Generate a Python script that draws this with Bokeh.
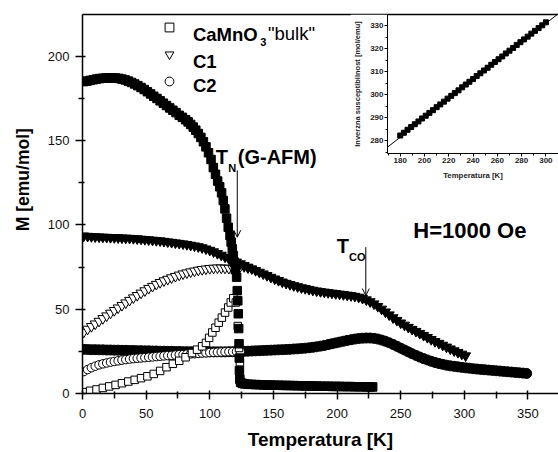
from bokeh.plotting import figure
from bokeh.models import (Range1d, Label, Arrow, OpenHead, Legend, LegendItem,
                          FixedTicker, LinearAxis)
from bokeh.embed import file_html
from bokeh.resources import INLINE

FONT = "Liberation Sans"

# ---------------- data (T [K], M [emu/mol]) ----------------
bulk_fc = [(1, 185.0), (3.5, 185.3), (6, 185.7), (8.5, 186.1), (11, 186.5), (13.5, 186.8),
           (16, 187.0), (18.5, 187.1), (21, 187.2), (23.5, 187.2), (26, 187.1), (28.5, 186.9),
           (31, 186.5), (33.5, 186.0), (36, 185.3), (38.5, 184.5), (41, 183.6), (43.5, 182.6),
           (46, 181.5), (48.5, 180.3), (51, 179.0), (53.5, 177.7), (56, 176.3), (58.5, 175.0),
           (61, 173.6), (63.5, 172.2), (66, 170.8), (68.5, 169.4), (71, 168.0), (73.5, 166.6),
           (76, 165.0), (78.5, 163.8), (81, 162.4), (83, 161.1), (85, 159.6), (87, 158.0),
           (89, 156.2), (91, 154.2), (93, 151.9), (95, 149.3), (97, 146.3), (99, 142.8),
           (101, 138.8), (102.8, 134.0), (104.5, 130.0), (106.2, 126.0), (107.8, 122.6),
           (109.3, 119.0), (110.6, 114.5), (111.9, 109.5), (113.2, 104.0), (114.5, 98.6),
           (115.9, 93.7), (116.8, 89.8), (117.7, 85.8), (118.5, 81.8), (119.2, 77.9),
           (120.1, 73.5), (121.1, 69.0), (121.6, 61.0), (122.0, 55.0), (122.4, 47.3),
           (122.7, 38.5), (123.0, 29.5), (123.2, 21.0), (123.3, 13.6), (123.6, 8.5),
           (124.2, 6.6), (125.5, 6.0), (127.5, 5.7), (130, 5.5), (133, 5.4), (136, 5.3),
           (139, 5.2), (142, 5.1), (145, 5.0), (148, 5.0), (151, 4.9), (154, 4.9), (157, 4.8),
           (160, 4.8), (163, 4.7), (166, 4.7), (169, 4.6), (172, 4.6), (175, 4.5), (178, 4.5),
           (181, 4.4), (184, 4.4), (187, 4.3), (190, 4.3), (193, 4.3), (196, 4.2), (199, 4.2),
           (202, 4.2), (205, 4.1), (208, 4.1), (211, 4.1), (214, 4.0), (217, 4.0), (220, 4.0),
           (223, 3.9), (226, 3.9), (228, 3.9)]

bulk_zfc = [(1, 0.8), (6, 1.6), (11, 2.4), (16, 3.3), (21, 4.2), (26, 5.1), (31, 6.1), (36, 7.1),
            (41, 8.1), (46, 9.1), (51, 10.2), (56, 11.6), (61, 13.4), (66, 15.6), (71, 17.6),
            (76, 19.4), (81, 21.5), (86, 24.0), (90, 26.0), (94, 28.0), (97, 30.0), (99.5, 33.0),
            (102, 36.2), (104.5, 39.0), (107, 42.0), (109.5, 45.0), (112, 48.0), (114.5, 51.0),
            (116.5, 54.0), (118.5, 56.5), (120.5, 54.0), (122, 40.0), (123, 27.0), (123.7, 18.6)]

c1_fc = [(1, 93.5), (4, 93.3), (7, 93.1), (10, 93.0), (13, 92.9), (16, 92.8), (19, 92.7),
         (22, 92.6), (25, 92.5), (28, 92.4), (31, 92.3), (34, 92.2), (37, 92.1), (40, 92.0),
         (43, 91.8), (46, 91.6), (49, 91.4), (52, 91.2), (55, 91.0), (58, 90.8), (61, 90.6),
         (64, 90.3), (67, 90.0), (70, 89.7), (73, 89.4), (76, 89.1), (79, 88.8), (82, 88.4),
         (85, 88.0), (88, 87.6), (91, 87.1), (94, 86.5), (97, 85.8), (100, 85.0), (103, 84.1),
         (106, 83.1), (109, 82.1), (112, 81.0), (115, 80.0), (118, 79.0), (121, 78.0),
         (124, 77.0), (127, 76.0), (130, 75.0), (133, 74.0), (136, 73.0), (139, 72.0),
         (142, 71.0), (145, 70.0), (148, 69.0), (151, 68.0), (154, 67.1), (157, 66.2),
         (160, 65.4), (163, 64.7), (166, 64.0), (169, 63.4), (172, 62.8), (175, 62.3),
         (178, 61.8), (181, 61.3), (184, 60.9), (187, 60.5), (190, 60.2), (193, 59.9),
         (196, 59.6), (199, 59.3), (202, 59.0), (205, 58.7), (208, 58.4), (211, 58.1),
         (214, 57.7), (217, 57.2), (220, 56.5), (223, 55.6), (226, 54.5), (229, 53.2),
         (232, 51.7), (235, 50.1), (238, 48.4), (241, 46.7), (244, 45.0), (247, 43.4),
         (250, 41.9), (253, 40.6), (256, 39.3), (259, 38.1), (262, 36.9), (265, 35.7),
         (268, 34.5), (271, 33.3), (274, 32.1), (277, 30.9), (280, 29.8), (283, 28.7),
         (286, 27.6), (289, 26.5), (292, 25.4), (295, 24.4), (298, 23.4), (301, 22.4)]

c1_zfc = [(1, 36.5), (4, 38.2), (7, 39.8), (10, 41.3), (13, 42.9), (16, 44.5), (19, 46.1),
          (22, 47.7), (25, 49.3), (28, 50.8), (31, 52.3), (34, 53.8), (37, 55.3), (40, 56.8),
          (43, 58.2), (46, 59.6), (49, 61.0), (52, 62.4), (55, 63.6), (58, 64.8), (61, 65.9),
          (64, 66.9), (67, 67.8), (70, 68.7), (73, 69.5), (76, 70.3), (79, 71.0), (82, 71.6),
          (85, 72.2), (88, 72.7), (91, 73.2), (94, 73.6), (97, 73.9), (100, 74.2), (103, 74.4),
          (106, 74.5), (109, 74.5), (112, 74.4), (115, 74.3), (118, 74.3), (121, 74.8),
          (124, 75.4), (127, 75.3), (130, 74.6)]

c2_fc = [(1, 26.2), (4, 26.1), (7, 26.0), (10, 26.0), (13, 25.9), (16, 25.9), (19, 25.8),
         (22, 25.8), (25, 25.7), (28, 25.7), (31, 25.6), (34, 25.6), (37, 25.5), (40, 25.5),
         (43, 25.4), (46, 25.4), (49, 25.3), (52, 25.3), (55, 25.2), (58, 25.2), (61, 25.1),
         (64, 25.1), (67, 25.0), (70, 25.0), (73, 24.9), (76, 24.9), (79, 24.8), (82, 24.8),
         (85, 24.8), (88, 24.7), (91, 24.7), (94, 24.7), (97, 24.7), (100, 24.7), (103, 24.7),
         (106, 24.7), (109, 24.7), (112, 24.7), (115, 24.8), (118, 24.8), (121, 24.9),
         (124, 24.9), (127, 25.0), (130, 25.1), (133, 25.2), (136, 25.3), (139, 25.4),
         (142, 25.5), (145, 25.6), (148, 25.7), (151, 25.8), (154, 25.9), (157, 26.0),
         (160, 26.1), (163, 26.2), (166, 26.4), (169, 26.5), (172, 26.7), (175, 26.9),
         (178, 27.1), (181, 27.4), (184, 27.7), (187, 28.1), (190, 28.5), (193, 29.0),
         (196, 29.5), (199, 30.0), (202, 30.5), (205, 31.0), (208, 31.5), (211, 31.9),
         (214, 32.3), (217, 32.6), (220, 32.8), (223, 32.9), (226, 32.9), (229, 32.7),
         (232, 32.3), (235, 31.7), (238, 31.0), (241, 30.1), (244, 29.1), (247, 28.0),
         (250, 26.9), (253, 25.8), (256, 24.7), (259, 23.6), (262, 22.6), (265, 21.6),
         (268, 20.7), (271, 19.9), (274, 19.1), (277, 18.4), (280, 17.8), (283, 17.3),
         (286, 16.8), (289, 16.4), (292, 16.1), (295, 15.8), (298, 15.5), (301, 15.2),
         (304, 15.0), (307, 14.7), (310, 14.5), (313, 14.3), (316, 14.1), (319, 13.9),
         (322, 13.7), (325, 13.5), (328, 13.3), (331, 13.1), (334, 12.9), (337, 12.7),
         (340, 12.5), (343, 12.3), (346, 12.1), (349, 11.9)]

c2_zfc = [(1, 13.0), (4, 14.2), (7, 15.3), (10, 16.2), (13, 17.0), (16, 17.6), (19, 18.1),
          (22, 18.6), (25, 19.0), (28, 19.4), (31, 19.8), (34, 20.1), (37, 20.4), (40, 20.7),
          (43, 20.9), (46, 21.1), (49, 21.3), (52, 21.5), (55, 21.7), (58, 21.9), (61, 22.1),
          (64, 22.3), (67, 22.5), (70, 22.6), (73, 22.8), (76, 23.0), (79, 23.1), (82, 23.3),
          (85, 23.5), (88, 23.6), (91, 23.8), (94, 24.0), (97, 24.1), (100, 24.3), (103, 24.4),
          (106, 24.5), (109, 24.6), (112, 24.7), (115, 24.8), (118, 24.8), (121, 24.9),
          (124, 24.9)]

# inset: inverse susceptibility (T [K], 1/chi [mol/emu]) and Curie-Weiss fit line
inv_chi = [(180, 282.3), (183, 283.5), (186, 284.8), (189, 286.0), (192, 287.2), (195, 288.4),
           (198, 289.7), (201, 290.9), (204, 292.1), (207, 293.3), (210, 294.6), (213, 295.8),
           (216, 297.0), (219, 298.3), (222, 299.5), (225, 300.7), (228, 301.9), (231, 303.2),
           (234, 304.4), (237, 305.6), (240, 306.8), (243, 308.1), (246, 309.3), (249, 310.5),
           (252, 311.7), (255, 313.0), (258, 314.2), (261, 315.4), (264, 316.6), (267, 317.9),
           (270, 319.1), (273, 320.3), (276, 321.6), (279, 322.8), (282, 324.0), (285, 325.2),
           (288, 326.5), (291, 327.7), (294, 328.9), (297, 330.1), (300, 331.4)]
fit_T = [165, 315]
fit_chi = [275.4, 337.1]

x_ticks = [0, 50, 100, 150, 200, 250, 300, 350]
x_minor = [25, 75, 125, 175, 225, 275, 325, 375]
y_ticks = [0, 50, 100, 150, 200]
y_minor = [25, 75, 125, 175, 225]
ix_ticks = [180, 200, 220, 240, 260, 280, 300]
ix_minor = [170, 190, 210, 230, 250, 270, 290, 310]
iy_ticks = [280, 290, 300, 310, 320, 330]
iy_minor = [275, 285, 295, 305, 315, 325, 335]

NBSP = "\u00a0"


def cols(pairs):
    return [a for a, _ in pairs], [b for _, b in pairs]


def add_border_axis(fig, width):
    ax = LinearAxis(ticker=FixedTicker(ticks=[]), axis_line_color="black",
                    axis_line_width=width,
                    major_tick_out=0, major_tick_in=0, minor_tick_out=0, minor_tick_in=0,
                    major_label_standoff=0, major_label_text_font_size="0px")
    fig.add_layout(ax, "above")


# ---------------- main plot ----------------
p = figure(width=558, height=452, output_backend="svg", toolbar_location=None,
           x_range=Range1d(0, 374), y_range=Range1d(0, 224.8),
           min_border_left=82, min_border_right=0, min_border_top=14, min_border_bottom=59)
p.background_fill_color = "white"
p.border_fill_color = "white"
p.xgrid.visible = False
p.ygrid.visible = False
p.outline_line_color = None
xa = p.below[0]
ya = p.left[0]
add_border_axis(p, 1.5)

xa.ticker = FixedTicker(ticks=x_ticks, minor_ticks=x_minor)
ya.ticker = FixedTicker(ticks=y_ticks, minor_ticks=y_minor)
for ax in (xa, ya):
    ax.axis_line_width = 1.5
    ax.axis_line_color = "black"
    ax.major_tick_line_width = 1.5
    ax.minor_tick_line_width = 1.5
    ax.major_tick_line_color = "black"
    ax.minor_tick_line_color = "black"
    ax.major_tick_in = 3
    ax.minor_tick_in = 2
    ax.major_label_text_font = FONT
    ax.major_label_text_font_size = "13px"
    ax.major_label_text_color = "#111111"
    ax.axis_label_text_font = FONT
    ax.axis_label_text_font_style = "bold"
    ax.axis_label_text_color = "black"
xa.major_tick_out = 6
xa.minor_tick_out = 5
ya.major_tick_out = 7
ya.minor_tick_out = 4
xa.major_label_standoff = 9
ya.major_label_standoff = 6
xa.axis_label = "Temperatura [K]"
xa.axis_label_text_font_size = "19px"
xa.axis_label_standoff = 8
ya.axis_label = NBSP * 10 + "M [emu/mol]"
ya.axis_label_text_font_size = "17.5px"
ya.axis_label_standoff = 12

x, y = cols(c2_fc)
p.scatter(x, y, marker="circle", size=10, fill_color="black", line_color="black")
x, y = cols(c2_zfc)
r_c2 = p.scatter(x, y, marker="circle", size=8.5, fill_color="white", line_color="black", line_width=1)
x, y = cols(c1_zfc)
r_c1 = p.scatter(x, y, marker="inverted_triangle", size=10, fill_color="white", line_color="black", line_width=1)
x, y = cols(c1_fc)
p.scatter(x, y, marker="inverted_triangle", size=10, fill_color="black", line_color="black")
x, y = cols(bulk_zfc)
r_b = p.scatter(x, y, marker="square", size=7.5, fill_color="white", line_color="black", line_width=1)
x, y = cols(bulk_fc)
p.scatter(x, y, marker="square", size=8.5, fill_color="black", line_color="black")

# legend keys (glyphs only, distinct blank labels); legend texts are drawn as labels below
legend = Legend(items=[LegendItem(label=" ", renderers=[r_b]),
                       LegendItem(label="  ", renderers=[r_c1]),
                       LegendItem(label="   ", renderers=[r_c2])],
                location=(76, 300), orientation="vertical",
                glyph_width=22, glyph_height=24, label_height=24, spacing=3,
                padding=0, margin=0, label_standoff=2,
                border_line_color=None, background_fill_alpha=0,
                label_text_font=FONT, label_text_font_size="10px")
p.add_layout(legend)


def lab(xv, yv, text, size, style="bold"):
    p.add_layout(Label(x=xv, y=yv, text=text, text_font=FONT, text_font_size=size,
                       text_font_style=style, text_align="left", text_baseline="alphabetic",
                       text_color="black"))


lab(86.8, 213.2, "CaMnO", "18.5px")
lab(139.6, 208.2, "3", "11px")
lab(145.7, 213.3, '"bulk"', "18.5px", style="normal")
lab(86.8, 196.9, "C1", "18.5px")
lab(86.8, 182.6, "C2", "18.5px")
lab(104.6, 140.0, "T", "20px")
lab(114.6, 134.0, "N", "11px")
lab(122.0, 140.0, "(G-AFM)", "20px")
lab(199.7, 87.4, "T", "20px")
lab(209.4, 80.8, "CO", "11px")
lab(259.9, 96.7, "H=1000 Oe", "22px")

p.add_layout(Arrow(end=OpenHead(size=7, line_width=1, line_color="black"),
                   x_start=121.6, y_start=132.3, x_end=121.6, y_end=92.7,
                   line_width=1, line_color="black"))
p.add_layout(Arrow(end=OpenHead(size=7, line_width=1, line_color="black"),
                   x_start=222.6, y_start=86.8, x_end=222.6, y_end=58.1,
                   line_width=1, line_color="black"))

# ---------------- inset ----------------
ins = figure(width=208, height=170, output_backend="svg", toolbar_location=None,
             x_range=Range1d(169.5, 310.4), y_range=Range1d(274.5, 334.8),
             min_border_left=33, min_border_right=0, min_border_top=0, min_border_bottom=31)
ins.styles = {"position": "absolute", "left": "350px", "top": "14px"}
ins.background_fill_color = "white"
ins.border_fill_color = "white"
ins.xgrid.visible = False
ins.ygrid.visible = False
ins.outline_line_color = None
ixa = ins.below[0]
iya = ins.left[0]
add_border_axis(ins, 1.5)
ixa.ticker = FixedTicker(ticks=ix_ticks, minor_ticks=ix_minor)
iya.ticker = FixedTicker(ticks=iy_ticks, minor_ticks=iy_minor)
for ax in (ixa, iya):
    ax.axis_line_width = 1
    ax.major_tick_in = 0
    ax.minor_tick_in = 0
    ax.major_tick_out = 3
    ax.minor_tick_out = 2
    ax.major_label_standoff = 1
    ax.major_label_text_font = FONT
    ax.major_label_text_font_size = "8px"
    ax.major_label_text_font_style = "bold"
    ax.major_label_text_color = "#222222"
    ax.axis_label_text_font = FONT
    ax.axis_label_text_font_style = "bold"
    ax.axis_label_text_color = "#222222"
ixa.axis_label = "Temperatura [K]"
ixa.axis_label_text_font_size = "7.8px"
ixa.axis_label_standoff = 5
iya.axis_label = "Inverzna susceptibilnost [mol/emu]"
iya.axis_label_text_font_size = "7.5px"
iya.axis_label_standoff = 5

ins.line(fit_T, fit_chi, line_color="black", line_width=1)
x, y = cols(inv_chi)
ins.scatter(x, y, marker="square", size=5, fill_color="black", line_color="black")

open("out.html", "w").write(file_html([p, ins], INLINE))
